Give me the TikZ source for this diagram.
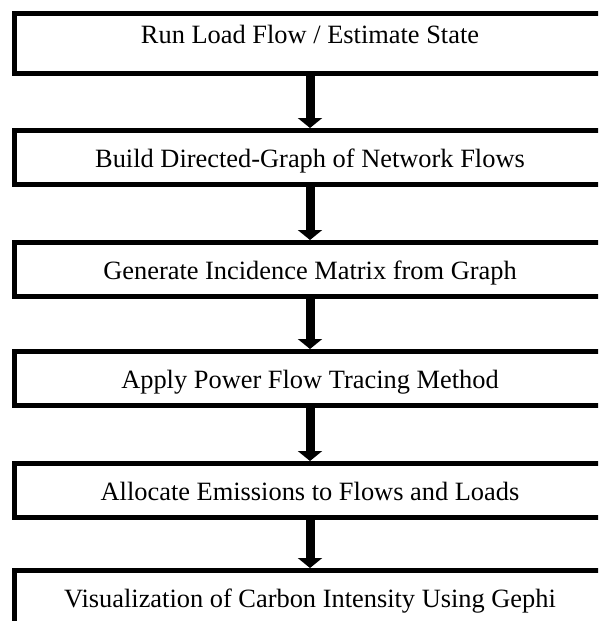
\documentclass[tikz,border=0pt]{standalone}
\usepackage{fontspec}
\setmainfont{Liberation Serif}
\usetikzlibrary{arrows.meta,positioning}

\begin{document}
\begin{tikzpicture}[->,>={Triangle[width=24pt,length=10pt]},line width=9pt,
  node distance=52pt,
  stage/.style={draw,line width=5pt,minimum width=591pt,inner ysep=0pt,
    text height=36.5pt,text depth=17.5pt,font=\fontsize{26.4}{31}\selectfont}]

\useasboundingbox (0,0) rectangle (598pt,-621pt);
\clip (0,0) rectangle (598pt,-621pt);

\node[stage,text height=29.5pt,text depth=30.5pt] (loadflow) at (310pt,-43.5pt) {Run Load Flow / Estimate State};
\node[stage] (digraph) [below=of loadflow] {Build Directed-Graph of Network Flows};
\node[stage] (incidence) [below=53pt of digraph] {Generate Incidence Matrix from Graph};
\node[stage] (tracing) [below=50pt of incidence] {Apply Power Flow Tracing Method};
\node[stage] (allocate) [below=53pt of tracing] {Allocate Emissions to Flows and Loads};
\node[stage] (gephi) [below=48pt of allocate] {Visualization of Carbon Intensity Using Gephi};

\path
  (loadflow)  edge (digraph)
  (digraph)   edge (incidence)
  (incidence) edge (tracing)
  (tracing)   edge (allocate)
  (allocate)  edge (gephi)
;
\end{tikzpicture}
\end{document}
